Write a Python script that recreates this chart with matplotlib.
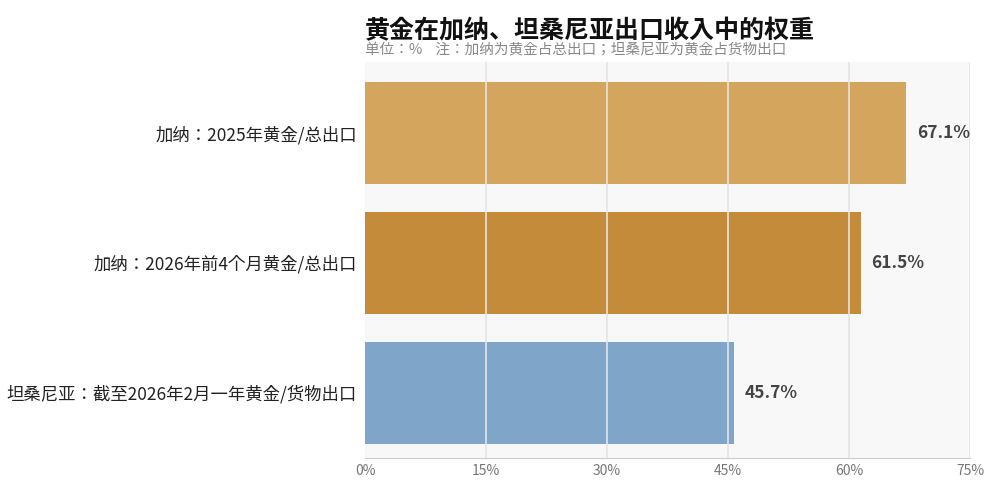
import matplotlib.pyplot as plt

plt.rcParams['font.family'] = ['Noto Sans CJK JP', 'DejaVu Sans']

labels = ['加纳：2025年黄金/总出口', '加纳：2026年前4个月黄金/总出口', '坦桑尼亚：截至2026年2月一年黄金/货物出口']
values = [67.1, 61.5, 45.7]
colors = ['#D4A55C', '#C38B3A', '#7FA6C9']
ticks = [0, 15, 30, 45, 60, 75]

fig = plt.figure(figsize=(10.02, 4.99), dpi=100)
ax = fig.add_axes([365 / 1002, 41 / 499, 605 / 1002, 396 / 499])
ax.set_facecolor('#f8f8f8')

y = list(range(len(labels)))[::-1]
ax.barh(y, values, height=0.785, color=colors, zorder=2)
for t in ticks[1:]:
    ax.axvline(t, color='#e4e4e4', lw=1.2, zorder=3)
for yi, v in zip(y, values):
    ax.text(v + 1.3, yi, f'{v}%', va='center', ha='left', fontsize=12.5,
            fontweight='bold', color='#444444')

ax.set_xlim(0, 75)
ax.set_ylim(-0.504, 2.546)
ax.set_xticks(ticks)
ax.set_xticklabels([f'{t}%' for t in ticks], color='#777777', fontsize=10)
ax.set_yticks(y)
ax.set_yticklabels(labels, fontsize=12.5, color='#222222')
ax.tick_params(length=0, pad=6)
ax.tick_params(axis='x', pad=4)
for s in ['top', 'right', 'left']:
    ax.spines[s].set_visible(False)
ax.spines['bottom'].set_color('#cccccc')

fig.text(365 / 1002, 1 - 31 / 499, '黄金在加纳、坦桑尼亚出口收入中的权重', fontsize=18,
         fontweight='bold', va='center', ha='left', color='#111111')
fig.text(365 / 1002, 1 - 50 / 499, '单位：%    注：加纳为黄金占总出口；坦桑尼亚为黄金占货物出口',
         fontsize=10.5, va='center', ha='left', color='#888888')

fig.savefig('out.png', dpi=100)
